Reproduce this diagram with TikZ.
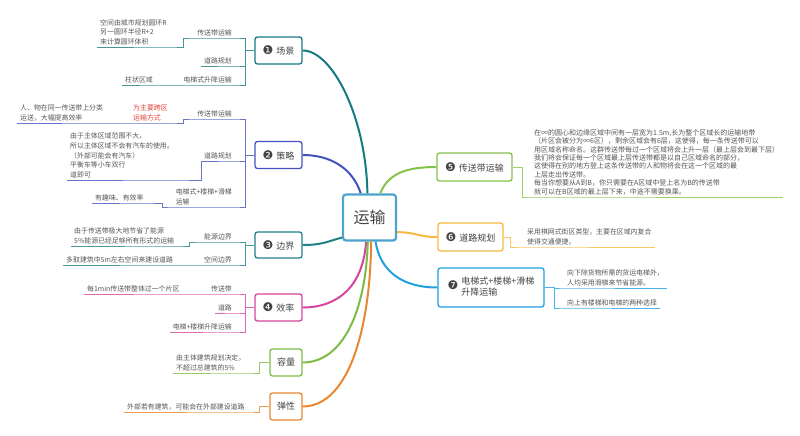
\documentclass[tikz,border=0pt]{standalone}
\usepackage{fontspec}
\setmainfont{Noto Sans CJK SC}
\newfontfamily\numfont{DejaVu Sans}
\usepackage{xcolor}
\definecolor{centerblue}{RGB}{76,163,204}
\definecolor{sceneteal}{RGB}{22,122,128}
\definecolor{strategyblue}{RGB}{67,83,190}
\definecolor{boundteal}{RGB}{32,128,136}
\definecolor{effpink}{RGB}{214,68,155}
\definecolor{capgreen}{RGB}{126,186,70}
\definecolor{elasticorange}{RGB}{232,135,48}
\definecolor{beltgreen}{RGB}{132,194,74}
\definecolor{roadyellow}{RGB}{246,185,64}
\definecolor{liftblue}{RGB}{30,160,225}
\definecolor{labelgray}{RGB}{68,68,68}
\definecolor{leafgray}{RGB}{85,85,85}
\definecolor{notered}{RGB}{226,64,58}
\usepackage{tikz}
\usetikzlibrary{positioning,calc}
\newcommand{\numdot}[1]{{\numfont\fontsize{12}{12}\selectfont\color{labelgray}#1}\hspace{3pt}}

\begin{document}
\begin{tikzpicture}[
  x=1pt, y=1pt,
  topic/.style={rectangle, rounded corners=3pt, minimum width=53pt,
              minimum height=46pt, draw=centerblue, line width=2.2pt, fill=white,
              text=labelgray, font=\fontsize{16}{18}\selectfont},
  branch/.style={rectangle, rounded corners=2.5pt, minimum height=27pt,
              inner xsep=4pt, fill=white, draw=#1, line width=1.3pt,
              text=labelgray, font=\fontsize{9}{11}\selectfont},
  leaf/.style={inner xsep=3pt, inner ysep=2pt, align=left, text=leafgray,
              font=\fontsize{6.9}{9.6}\selectfont},
  mainline/.style={draw=#1, line width=2pt},
  subline/.style={draw=#1!80, line width=0.8pt}
]
\useasboundingbox (0,0) rectangle (800,436);

%% topics
\node[topic] (core) at (369.5,218.5) {运输};
\node[branch=sceneteal, minimum width=47pt] (scene) at (278.5,385.5) {\numdot{❶}场景};
\node[branch=strategyblue, minimum width=47pt] (strategy) at (278.5,281) {\numdot{❷}策略};
\node[branch=boundteal, minimum width=47pt, minimum height=26pt] (bound) at (278.5,191) {\numdot{❸}边界};
\node[branch=effpink, minimum width=47pt] (eff) at (278.5,128.5) {\numdot{❹}效率};
\node[branch=capgreen, minimum width=32pt] (cap) at (286,73.5) {容量};
\node[branch=elasticorange, minimum width=32pt] (elastic) at (286,29.5) {弹性};
\node[branch=beltgreen, minimum width=75pt, minimum height=28pt] (belt) at (474.5,269) {\numdot{❺}传送带运输};
\node[branch=roadyellow, minimum width=65pt, minimum height=28pt] (road) at (470.5,199) {\numdot{❻}道路规划};
\node[branch=liftblue, minimum width=106pt, minimum height=39pt] (lift) at (491,148.5)
  {\numdot{❼}\begin{tabular}{@{}l@{}}电梯式+楼梯+滑梯\\升降运输\end{tabular}};

%% main curves
\draw[mainline=sceneteal] (scene.east) .. controls +(30,0) and +(-1,75) .. (core.95);
\draw[mainline=strategyblue] (strategy.east) .. controls +(28,0) and +(-8,25) .. (core.110);
\draw[mainline=boundteal] (bound.east) .. controls +(20,0) and +(-15,-4) .. (core.216);
\draw[mainline=effpink] (eff.east) .. controls +(35,0) and +(-3,-45) .. (core.262);
\draw[mainline=capgreen] (cap.east) .. controls +(40,0) and +(-2,-70) .. (core.266);
\draw[mainline=elasticorange] (elastic.east) .. controls +(45,0) and +(-1,-90) .. (core.274);
\draw[mainline=beltgreen] (core.66) .. controls +(8,20) and +(-30,0) .. (belt.west);
\draw[mainline=roadyellow] (core.332) .. controls +(20,0) and +(-20,0) .. (road.west);
\draw[mainline=liftblue] (core.284) .. controls +(5,-30) and +(-35,0) .. (lift.west);

%% scene leaves
\node[leaf, anchor=south east] (sceneBelt) at (235,398) {传送带运输};
\node[leaf, anchor=south west] (sceneBeltNote) at (97,389) {空间由城市规划圆环R\\另一圆环半径R+2\\来计算圆环体积};
\node[leaf, anchor=south east] (sceneRoad) at (235,370) {道路规划};
\node[leaf, anchor=south east] (sceneLift) at (235,351) {电梯式升降运输};
\node[leaf, anchor=south west] (sceneLiftNote) at (122,351) {柱状区域};

\draw[subline=sceneteal] (scene.west) -- ++(-9,0) |- (sceneBelt.south east) -- (sceneBelt.south west)
  -- ++(-11,0) |- (sceneBeltNote.south east) -- (sceneBeltNote.south west);
\draw[subline=sceneteal] (scene.west) -- ++(-9,0) |- (sceneRoad.south east) -- (sceneRoad.south west);
\draw[subline=sceneteal] (scene.west) -- ++(-9,0) |- (sceneLift.south east) -- (sceneLift.south west)
  -- (sceneLiftNote.south east) -- (sceneLiftNote.south west);

%% strategy leaves
\node[leaf, anchor=south east] (stratBelt) at (235,317) {传送带运输};
\node[leaf, anchor=south west, text=notered] (stratBeltWhy) at (130,313) {为主要跨区\\运输方式};
\node[leaf, anchor=south west] (stratBeltNote) at (17,313) {人、物在同一传送带上分类\\运送，大幅提高效率};
\node[leaf, anchor=south east] (stratRoad) at (235,275) {道路规划};
\node[leaf, anchor=south west] (stratRoadNote) at (67,256) {由于主体区域范围不大，\\所以主体区域不会有汽车的使用。\\（外部可能会有汽车）\\平衡车等小车双行\\道即可};
\node[leaf, anchor=south east] (stratLift) at (235,229) {电梯式+楼梯+滑梯\\运输};
\node[leaf, anchor=south west] (stratLiftNote) at (92,233) {有趣味、有效率};

\draw[subline=strategyblue] (strategy.west) -- ++(-9,0) |- (stratBelt.south east) -- (stratBelt.south west)
  -- ++(-11,0) |- (stratBeltWhy.south east) -- (stratBeltWhy.south west)
  -- (stratBeltNote.south east) -- (stratBeltNote.south west);
\draw[subline=strategyblue] (strategy.west) -- ++(-9,0) |- (stratRoad.south east) -- (stratRoad.south west)
  |- (stratRoadNote.south east) -- (stratRoadNote.south west);
\draw[subline=strategyblue] (strategy.west) -- ++(-9,0) |- (stratLift.south east) -- (stratLift.south west)
  -- ++(-10,0) |- (stratLiftNote.south east) -- (stratLiftNote.south west);

%% bound leaves
\node[leaf, anchor=south east] (boundEnergy) at (235,194) {能源边界};
\node[leaf, anchor=south west] (boundEnergyNote) at (71,190) {由于传送带极大地节省了能源\\5\%能源已经足够所有形式的运输};
\node[leaf, anchor=south east] (boundSpace) at (235,171) {空间边界};
\node[leaf, anchor=south west] (boundSpaceNote) at (63,171) {多取建筑中5m左右空间来建设道路};

\draw[subline=boundteal] (bound.west) -- ++(-9,0) |- (boundEnergy.south east) -- (boundEnergy.south west)
  -- ++(-12,0) |- (boundEnergyNote.south east) -- (boundEnergyNote.south west);
\draw[subline=boundteal] (bound.west) -- ++(-9,0) |- (boundSpace.south east) -- (boundSpace.south west)
  -- (boundSpaceNote.south east) -- (boundSpaceNote.south west);

%% efficiency leaves
\node[leaf, anchor=south east] (effBelt) at (235,142) {传送带};
\node[leaf, anchor=south west] (effBeltNote) at (84,142) {每1min传送带整体过一个片区};
\node[leaf, anchor=south east] (effRoad) at (235,123) {道路};
\node[leaf, anchor=south east] (effLift) at (235,104) {电梯+楼梯升降运输};

\draw[subline=effpink] (eff.west) -- ++(-9,0) |- (effBelt.south east) -- (effBelt.south west)
  -- (effBeltNote.south east) -- (effBeltNote.south west);
\draw[subline=effpink] (eff.west) -- ++(-9,0) |- (effRoad.south east) -- (effRoad.south west);
\draw[subline=effpink] (eff.west) -- ++(-9,0) |- (effLift.south east) -- (effLift.south west);

%% capacity / elasticity
\node[leaf, anchor=south west] (capNote) at (173,63) {由主体建筑规划决定，\\不超过总建筑的5\%};
\node[leaf, anchor=south west] (elasticNote) at (124,24) {外部若有建筑，可能会在外部建设道路};

\draw[subline=capgreen] (cap.west) -- ++(-10,0) |- (capNote.south east) -- (capNote.south west);
\draw[subline=elasticorange] (elastic.west) -- ++(-10,0) |- (elasticNote.south east) -- (elasticNote.south west);

%% right side leaves
\node[leaf, anchor=south west, font=\fontsize{7}{8.4}\selectfont, text width=246pt] (beltNote) at (531,239)
  {在∞的圆心和边缘区域中间有一层宽为1.5m,长为整个区域长的运输地带\\（片区会被分为∞6区），剩余区域会有6层，这使得，每一条传送带可以\\用区域名称命名。这群传送带每过一个区域将会上升一层（最上层会到最下层）\\我们将会保证每一个区域最上层传送带都是以自己区域命名的部分，\\这使得在别的地方登上这条传送带的人和物将会在这一个区域的最\\上层走出传送带。\\每当你想要从A到B，你只需要在A区域中登上名为B的传送带\\就可以在B区域的最上层下来，中途不需要换乘。};
\node[leaf, anchor=south west] (roadNote) at (524,189) {采用棋网式街区类型，主要在区域内复合\\使得交通便捷。};
\node[leaf, anchor=south west] (liftDown) at (564,148) {向下除货物所需的货运电梯外，\\人均采用滑梯来节省能源。};
\node[leaf, anchor=south west] (liftUp) at (564,128) {向上有楼梯和电梯的两种选择};

\draw[subline=beltgreen] (belt.east) -- ++(10,0) |- (beltNote.south west) -- (beltNote.south east);
\draw[subline=roadyellow] (road.east) -- ++(7,0) |- (roadNote.south west) -- (roadNote.south east);
\draw[subline=liftblue] (lift.east) -- ++(10,0) |- (liftDown.south west) -- (liftDown.south east);
\draw[subline=liftblue] (lift.east) -- ++(10,0) |- (liftUp.south west) -- (liftUp.south east);

\end{tikzpicture}
\end{document}
